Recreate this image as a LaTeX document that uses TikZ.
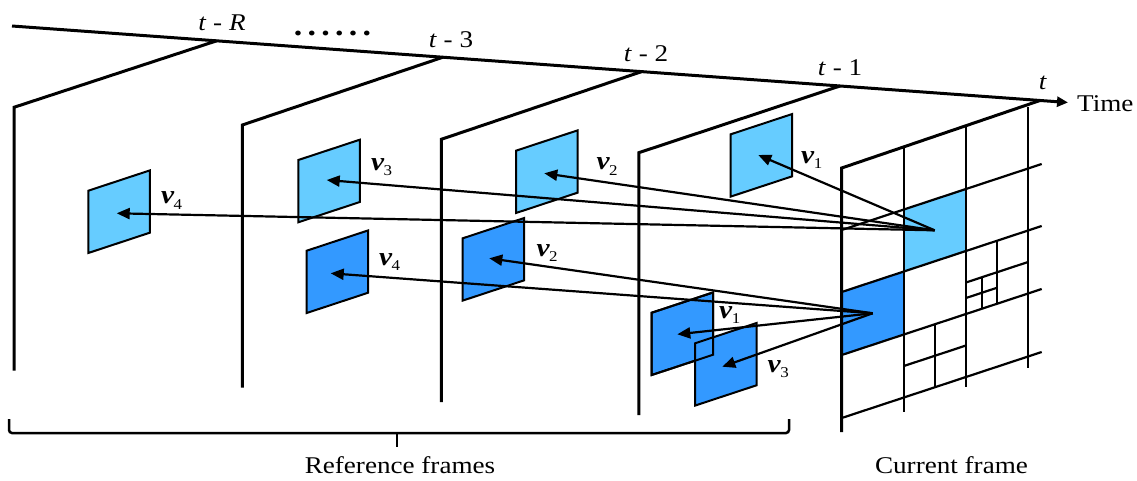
\documentclass[tikz,border=0pt]{standalone}
\usepackage{fontspec}
\setmainfont[FakeStretch=1.13]{Liberation Serif}
\usetikzlibrary{arrows.meta}
\definecolor{lightblk}{HTML}{66CCFF}
\definecolor{darkblk}{HTML}{3399FF}
\tikzset{
  frameline/.style={line width=3pt, line join=miter},
  gridline/.style={line width=2.2pt},
  blockline/.style={line width=2pt, line join=miter},
  arr/.style={line width=2.2pt, -{Triangle[length=13pt,width=11pt]}},
  lbl/.style={inner sep=0pt, font=\fontsize{24}{28}\selectfont},
  vlabel/.style={inner sep=0pt},
}
\newcommand{\blockat}[3]{% x, y (top-left corner), colour
  \filldraw[fill=#3, blockline] (#1,#2) -- ++(61.5,-20.3) -- ++(0,62.3) -- ++(-61.5,20.3) -- cycle;}
\newcommand{\blockoutline}[2]{%
  \draw[blockline] (#1,#2) -- ++(61.5,-20.3) -- ++(0,62.3) -- ++(-61.5,20.3) -- cycle;}
\newcommand{\vlab}[4]{%
  \node[vlabel, anchor=base west] (#1) at (#2,#3) {{\fontsize{26}{26}\selectfont\bfseries\itshape v}\kern-0.5pt\raisebox{-5.5pt}{\fontsize{15}{15}\selectfont #4}};}
\begin{document}
\begin{tikzpicture}[x=1pt, y=-1pt]
\useasboundingbox (0,0) rectangle (1137,480);

% ---------- current frame grid ----------
\coordinate (cf) at (841.7,168);
\begin{scope}[shift={(841.7,168)}, yslant=0.33]
  \fill[lightblk] (62,62) rectangle (124,124);
  \fill[darkblk] (0,124) rectangle (62,187);
  \draw[gridline] (62,0) -- (62,264);
  \draw[gridline] (124,0) -- (124,260);
  \draw[gridline] (186,0) -- (186,261);
  \foreach \v in {62,124,187,250} \draw[gridline] (0,\v) -- (200,\v);
  \draw[gridline] (155,124) -- (155,187);
  \draw[gridline] (124,155.5) -- (186,155.5);
  \draw[gridline] (140,155.5) -- (140,187);
  \draw[gridline] (124,171) -- (155,171);
  \draw[gridline] (93,187) -- (93,250);
  \draw[gridline] (62,218.5) -- (124,218.5);
  \coordinate (cfbl) at (0,264);
  \coordinate (srcL) at (93,93);
  \coordinate (srcD) at (31,155.5);
\end{scope}

% ---------- time axis ----------
\coordinate (tl0) at (12,26);
\coordinate (tl1) at (1068,102.5);
\draw[line width=3pt, -{Triangle[length=11pt,width=10pt]}] (tl0) -- (tl1);
\coordinate (jR) at (216.7,40.8);
\coordinate (j3) at (443,57.2);
\coordinate (j2) at (641.7,71.6);
\coordinate (j1) at (840,86);
\coordinate (jt) at (1040,100.5);

% ---------- frames ----------
\draw[frameline] (jR) -- (14,107.3) -- (14,370.7);
\draw[frameline] (j3) -- (242.3,125) -- (242.3,387.7);
\draw[frameline] (j2) -- (441.3,139.3) -- (441.3,402);
\draw[frameline] (j1) -- (638.8,152.7) -- (638.8,415);
\draw[frameline] (jt) -- (cf) -- (cfbl);

% ---------- blocks ----------
\blockat{88.3}{190.7}{lightblk}
\blockat{298.3}{160}{lightblk}
\blockat{516}{150.7}{lightblk}
\blockat{730.7}{134.3}{lightblk}
\blockat{306.7}{250.7}{darkblk}
\blockat{462.7}{238.3}{darkblk}
\blockat{651.7}{312.7}{darkblk}
\blockat{695}{343.3}{darkblk}
\blockoutline{651.7}{312.7}

% ---------- motion vectors ----------
\coordinate (tL1) at (758.3,155);
\coordinate (tL2) at (544.3,173.3);
\coordinate (tL3) at (326.7,180);
\coordinate (tL4) at (116.7,213.3);
\coordinate (tD1) at (677.3,334.3);
\coordinate (tD2) at (489.3,258.3);
\coordinate (tD3) at (722.3,366.7);
\coordinate (tD4) at (330.7,273.3);
\foreach \t in {tL1,tL2,tL3,tL4} \draw[arr] (srcL) -- (\t);
\foreach \t in {tD1,tD2,tD3,tD4} \draw[arr] (srcD) -- (\t);

% ---------- vector labels ----------
\vlab{lv4}{161}{203.5}{4}
\vlab{lv1}{801}{163}{1}
\vlab{lv2}{596.5}{169.5}{2}
\vlab{lv3}{371}{170}{3}
\vlab{dv4}{379}{265}{4}
\vlab{dv2}{536.5}{256}{2}
\vlab{dv1}{719}{318}{1}
\vlab{dv3}{767.5}{372}{3}

% ---------- time labels ----------
\node[lbl, anchor=base] (ltR) at (222,30) {\textit{t} - \textit{R}};
\node[lbl, anchor=base] (lt3) at (451,47.5) {\textit{t} - 3};
\node[lbl, anchor=base] (lt2) at (646,61) {\textit{t} - 2};
\node[lbl, anchor=base] (lt1) at (840,75.5) {\textit{t} - 1};
\node[lbl, anchor=base] (lt) at (1043,89.5) {\textit{t}};
\node[lbl, anchor=west] (ltime) at (1077,103.5) {Time};
\node[inner sep=0pt, anchor=base, font=\fontsize{30}{30}\selectfont\bfseries] (ldots) at (332.5,35) {.\kern5.3pt.\kern5.3pt.\kern5.3pt.\kern5.3pt.\kern5.3pt.};

% ---------- brace and captions ----------
\draw[line width=2.5pt, rounded corners=3pt] (9,419) -- (9,433) -- (789,433) -- (789,419);
\draw[line width=2.5pt] (397,433) -- (397,447);
\node[lbl, anchor=base] (lref) at (400,473) {Reference frames};
\node[lbl, anchor=base] (lcur) at (951.5,473) {Current frame};
\end{tikzpicture}
\end{document}
